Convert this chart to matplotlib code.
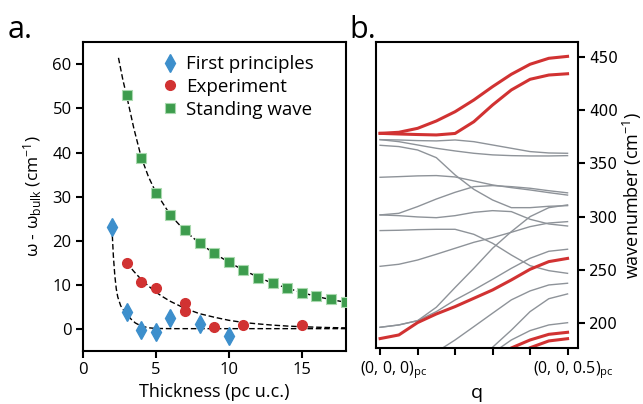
import matplotlib
matplotlib.use("Agg")
import matplotlib.pyplot as plt
from matplotlib.transforms import ScaledTranslation

plt.rcParams['font.family'] = ['Open Sans', 'DejaVu Sans']
plt.rcParams['mathtext.fontset'] = 'custom'
plt.rcParams['mathtext.rm'] = 'Open Sans'
plt.rcParams['mathtext.it'] = 'Open Sans:italic'
plt.rcParams['axes.linewidth'] = 1.5

# ---------------- Panel a data ----------------
fp_x = [2, 3, 4, 5, 6, 8, 10]
fp_y = [23.0, 3.8, -0.4, -0.75, 2.5, 1.0, -1.7]

exp_x = [3, 4, 5, 7, 7, 9, 11, 15]
exp_y = [15.0, 10.7, 9.3, 5.9, 4.0, 0.45, 0.85, 0.85]

sw_x = [3, 4, 5, 6, 7, 8, 9, 10, 11, 12, 13, 14, 15, 16, 17, 18]
sw_y = [53.1, 38.7, 30.8, 25.7, 22.3, 19.5, 17.2, 15.1, 13.3, 11.6, 10.3, 9.2, 8.2, 7.4, 6.7, 6.1]

# dashed guide curves
fit_fp_x = [2.0, 2.1, 2.2, 2.3, 2.4, 2.6, 2.8, 3.0, 3.3, 3.6, 4.0, 4.5, 5.0, 6.0, 18.0]
fit_fp_y = [23.0, 16.5, 12.0, 9.0, 7.2, 5.2, 4.2, 3.4, 2.2, 1.3, 0.6, 0.2, 0.05, 0.0, 0.0]

fit_exp_x = [3, 3.5, 4, 4.5, 5, 5.5, 6, 7, 8, 9, 10, 11, 12, 13, 14, 15, 16, 17, 18]
fit_exp_y = [15.0, 13.0, 11.2, 9.7, 8.3, 7.2, 6.2, 4.6, 3.4, 2.6, 1.9, 1.4, 1.08, 0.8, 0.59, 0.44, 0.33, 0.24, 0.18]

fit_sw_x = [2.45, 2.75, 3.0, 3.5, 4, 4.5, 5, 6, 7, 8, 9, 10, 11, 12, 13, 14, 15, 16, 17, 18]
fit_sw_y = [61.5, 56.5, 53.0, 45.5, 39.0, 34.5, 31.0, 25.8, 22.2, 19.4, 17.1, 15.1, 13.3, 11.7, 10.3, 9.2, 8.2, 7.3, 6.6, 6.0]

# ---------------- Panel b data ----------------
q = [0.0, 0.05, 0.1, 0.15, 0.2, 0.25, 0.3, 0.35, 0.4, 0.45, 0.5]

gray_bands = [
    [372.2, 371.9, 371.3, 371.0, 371.9, 370.3, 367.2, 364.1, 361.0, 359.7, 359.4],
    [372.2, 370.3, 367.2, 364.1, 361.6, 359.4, 357.9, 357.2, 356.9, 356.9, 357.2],
    [366.9, 365.7, 362.5, 355.3, 339.1, 325.6, 315.6, 308.4, 308.4, 309.7, 310.3],
    [336.9, 337.5, 338.2, 338.5, 337.2, 333.5, 329.7, 327.2, 325.0, 322.5, 320.2],
    [301.6, 303.1, 309.4, 316.5, 322.8, 328.1, 329.1, 328.1, 326.6, 324.3, 322.3],
    [301.6, 300.9, 299.7, 299.0, 300.9, 304.0, 305.6, 304.7, 297.5, 293.1, 291.2],
    [286.9, 287.2, 287.8, 288.1, 288.1, 283.4, 275.0, 264.0, 254.0, 249.3, 246.8],
    [253.4, 255.3, 259.3, 264.7, 270.3, 275.9, 280.3, 285.3, 290.6, 294.0, 295.3],
    [196.2, 198.4, 202.4, 215.0, 233.5, 251.5, 270.3, 285.9, 300.0, 308.4, 311.0],
    [196.2, 198.4, 202.4, 210.9, 221.8, 231.2, 241.2, 251.5, 260.9, 267.5, 269.4],
    [130.0, 143.0, 158.0, 173.0, 184.3, 196.8, 209.4, 221.9, 230.3, 235.9, 237.5],
    [90.0, 100.0, 115.0, 130.0, 145.0, 162.0, 177.5, 193.5, 210.9, 223.0, 227.5],
    [90.0, 100.0, 110.0, 120.0, 135.0, 155.0, 172.0, 184.3, 193.1, 198.4, 200.5],
]

red_bands = [
    [378.1, 379.1, 382.8, 389.7, 398.4, 409.4, 421.9, 433.5, 442.9, 448.5, 450.3],
    [378.1, 377.5, 377.0, 376.6, 378.0, 389.0, 404.7, 418.8, 428.8, 432.8, 434.0],
    [185.6, 189.0, 200.6, 208.7, 215.6, 223.4, 231.2, 240.6, 250.6, 257.8, 260.8],
    [80.0, 90.0, 100.0, 115.0, 130.0, 150.0, 168.0, 176.8, 184.3, 189.6, 191.5],
    [70.0, 80.0, 90.0, 105.0, 120.0, 140.0, 158.0, 168.0, 177.0, 183.4, 185.5],
]

q_ticks = [0.0, 0.1, 0.2, 0.3, 0.4, 0.5]
q_ticklabels = ['(0, 0, 0)$_{\\mathrm{pc}}$', '', '', '', '', '(0, 0, 0.5)$_{\\mathrm{pc}}$']

BLUE = '#3d8fcc'
RED = '#d13232'
GREEN = '#3d9c4d'
GRAY = '#8e9399'

fig = plt.figure(figsize=(6.43, 4.04), dpi=100)

# ---------------- Panel a ----------------
ax1 = fig.add_axes([0.1286, 0.132, 0.409, 0.763])
ax1.plot(fit_fp_x, fit_fp_y, ls=(0, (4, 2)), color='black', lw=1.0, zorder=1)
ax1.plot(fit_exp_x, fit_exp_y, ls=(0, (4, 2)), color='black', lw=1.0, zorder=1)
ax1.plot(fit_sw_x, fit_sw_y, ls=(0, (4, 2)), color='black', lw=1.0, zorder=1)
ax1.plot(fp_x, fp_y, ls='none', marker='d', ms=9, color=BLUE, mec=BLUE,
         label='First principles', zorder=3)
ax1.plot(exp_x, exp_y, ls='none', marker='o', ms=7, color=RED, mec=RED,
         label='Experiment', zorder=3)
ax1.plot(sw_x, sw_y, ls='none', marker='s', ms=7.5, color=GREEN, mec='#a9d9ae',
         mew=0.8, label='Standing wave', zorder=3)
ax1.set_xlim(0, 18)
ax1.set_ylim(-5, 65)
ax1.set_xticks([0, 5, 10, 15])
ax1.set_yticks([0, 10, 20, 30, 40, 50, 60])
ax1.tick_params(direction='out', length=5, width=1.5, labelsize=12, pad=3)
ax1.set_xlabel('Thickness (pc u.c.)', fontsize=13, labelpad=4)
ax1.set_ylabel('ω - ω$_{\\mathrm{bulk}}$ (cm$^{\\mathrm{-1}}$)', fontsize=12.5, labelpad=6)
leg = ax1.legend(loc='upper left', bbox_to_anchor=(0.24, 1.007), frameon=False,
                 fontsize=13.5, handlelength=1.0, handletextpad=0.35,
                 labelspacing=0.25, borderpad=0.3)

# ---------------- Panel b ----------------
ax2 = fig.add_axes([0.5843, 0.1379, 0.3147, 0.7574])
for band in gray_bands:
    ax2.plot(q, band, color=GRAY, lw=1.0, zorder=1)
for band in red_bands:
    ax2.plot(q, band, color=RED, lw=2.2, zorder=2)
ax2.set_xlim(-0.0117, 0.528)
ax2.set_ylim(176.5, 463.5)
ax2.yaxis.tick_right()
ax2.yaxis.set_label_position('right')
ax2.set_yticks([200, 250, 300, 350, 400, 450])
ax2.set_xticks(q_ticks)
ax2.set_xticklabels(q_ticklabels)
ax2.tick_params(direction='out', length=5, width=1.5, labelsize=11, pad=3)
ax2.tick_params(axis='x', labelsize=11.5)
ax2.tick_params(axis='y', labelfontfamily='DejaVu Sans')
xl = ax2.get_xticklabels()
xl[0].set_transform(xl[0].get_transform() + ScaledTranslation(14/100, 0, fig.dpi_scale_trans))
xl[-1].set_transform(xl[-1].get_transform() + ScaledTranslation(6/100, 0, fig.dpi_scale_trans))
ax2.set_xlabel('q', fontsize=14, labelpad=2)
ax2.set_ylabel('wavenumber (cm$^{\\mathrm{-1}}$)', fontsize=13, labelpad=2)

fig.text(0.012, 0.906, 'a.', fontsize=22)
fig.text(0.543, 0.906, 'b.', fontsize=22)

fig.savefig('out.png', dpi=100)
